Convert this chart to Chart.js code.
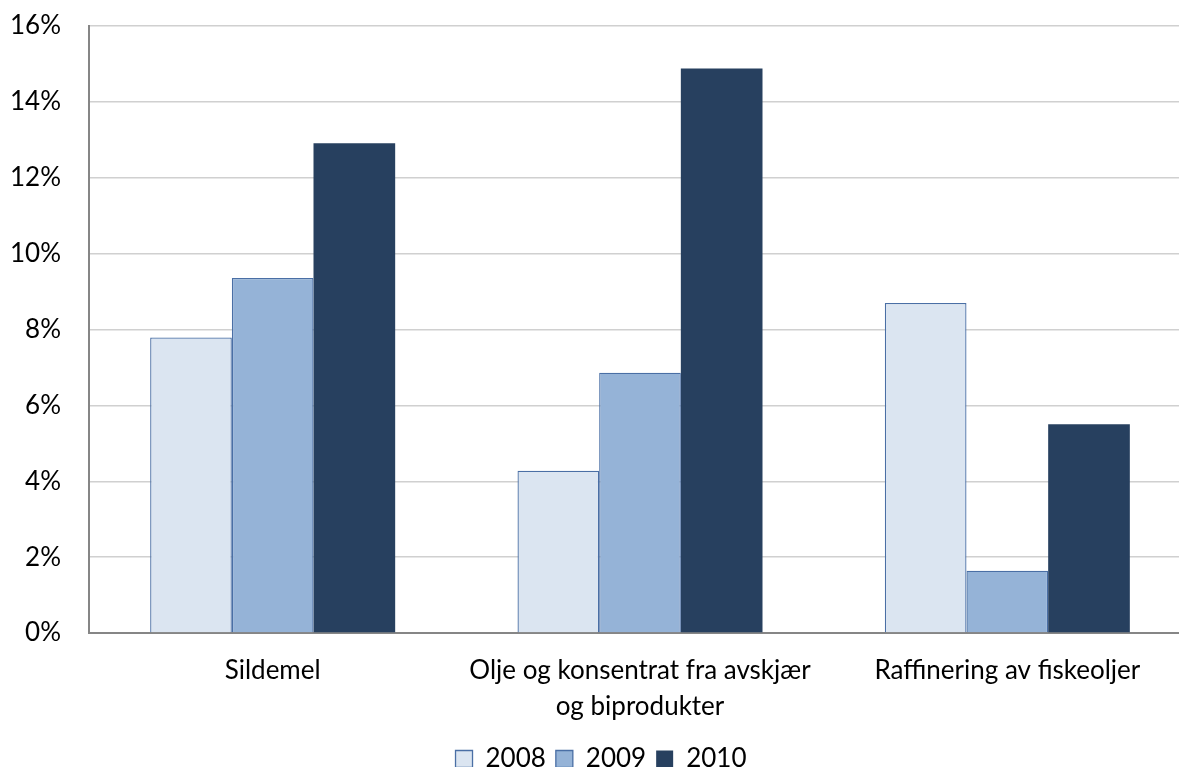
<!DOCTYPE html>
<html>
<head>
<meta charset="utf-8">
<script src="https://cdn.jsdelivr.net/npm/chart.js@4"></script>
<style>
  html, body { margin: 0; padding: 0; background: #fff; overflow: hidden; }
  #wrap { width: 1179px; height: 767px; overflow: hidden; position: relative; }
  #c { position: absolute; left: 0; top: 0; }
</style>
</head>
<body>
<div id="wrap"><canvas id="c" width="1215" height="782"></canvas></div>
<script>
const categories = ['Sildemel', ['Olje og konsentrat fra avskjær', 'og biprodukter'], 'Raffinering av fiskeoljer'];
const seriesNames = ['2008', '2009', '2010'];
const values2008 = [7.79, 4.28, 8.70];
const values2009 = [9.36, 6.86, 1.64];
const values2010 = [12.91, 14.88, 5.50];
const yTicks = [0, 2, 4, 6, 8, 10, 12, 14, 16];

const FONT = 'Lato, Carlito, "Liberation Sans", sans-serif';

new Chart(document.getElementById('c'), {
  type: 'bar',
  data: {
    labels: categories,
    datasets: [
      { label: seriesNames[0], data: values2008, backgroundColor: '#DBE5F1', borderColor: '#4A6FA5', borderWidth: 1.3 },
      { label: seriesNames[1], data: values2009, backgroundColor: '#95B3D7', borderColor: '#4A6FA5', borderWidth: 1.3 },
      { label: seriesNames[2], data: values2010, backgroundColor: '#27405F', borderColor: '#27405F', borderWidth: 0 }
    ]
  },
  options: {
    responsive: false,
    animation: false,
    devicePixelRatio: 1,
    layout: { padding: { top: 26, left: 11, right: 24, bottom: 0 } },
    datasets: { bar: { categoryPercentage: 0.667, barPercentage: 1.0 } },
    plugins: {
      tooltip: { enabled: false },
      legend: {
        position: 'bottom',
        labels: {
          font: { family: FONT, size: 26 },
          color: '#000',
          boxWidth: 17,
          boxHeight: 17,
          padding: 10
        }
      }
    },
    scales: {
      x: {
        grid: { display: false, drawTicks: false },
        border: { display: true, color: '#868686', width: 2 },
        ticks: {
          font: { family: FONT, size: 26, lineHeight: 1.38 },
          color: '#000',
          padding: 20,
          maxRotation: 0
        },
        afterFit: (s) => { s.height = 103; s.paddingLeft = 0; s.paddingRight = 0; }
      },
      y: {
        min: 0,
        max: 16,
        afterBuildTicks: (s) => { s.ticks = yTicks.map(v => ({ value: v })); },
        grid: { color: '#D0D0D0', lineWidth: 1.5, drawTicks: false },
        border: { display: true, color: '#868686', width: 2 },
        ticks: {
          font: { family: FONT, size: 26 },
          color: '#000',
          padding: 28,
          callback: (v) => v + '%'
        },
        afterFit: (s) => { s.width = 78; s.paddingTop = 0; s.paddingBottom = 0; }
      }
    }
  }
});
</script>
</body>
</html>
